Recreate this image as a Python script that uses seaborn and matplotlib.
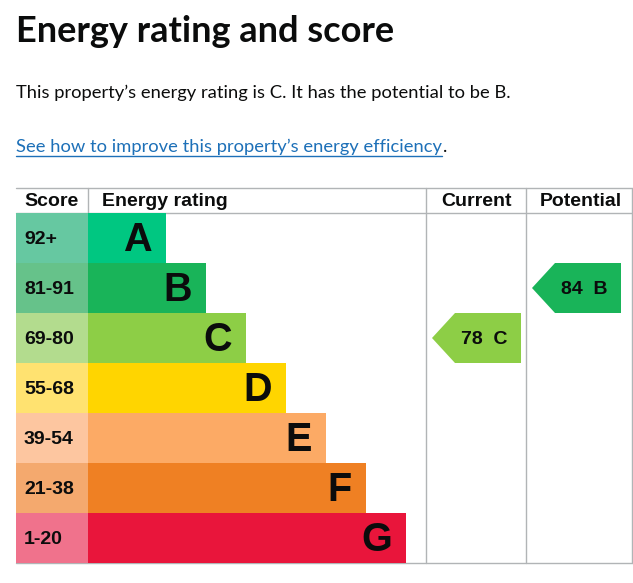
import matplotlib
matplotlib.use("Agg")
import matplotlib.pyplot as plt
import seaborn as sns
import pandas as pd

# ---- data ----
ratings = ["A", "B", "C", "D", "E", "F", "G"]
score_ranges = ["92+", "81-91", "69-80", "55-68", "39-54", "21-38", "1-20"]
band_low = [92, 81, 69, 55, 39, 21, 1]
current_score = 78
potential_score = 84
title = "Energy rating and score"
summary = "This property\u2019s energy rating is C. It has the potential to be B."
link_text = "See how to improve this property\u2019s energy efficiency"
headers = ["Score", "Energy rating", "Current", "Potential"]

# ---- styles ----
rating_colors = ["#00c781", "#19b459", "#8dce46", "#ffd500", "#fcaa65", "#ef8023", "#e9153b"]
score_colors = ["#66c8a1", "#66c28a", "#b3dc8e", "#ffe270", "#fdc6a0", "#f4a96e", "#f0728c"]
grid_color = "#b1b4b6"
TXT = "#0b0c0c"
LINK = "#1d70b8"
TF = "Liberation Sans"

W, H = 633, 583
sns.set_theme(style="white")
plt.rcParams["font.family"] = ["Liberation Sans", "DejaVu Sans"]

fig = plt.figure(figsize=(W / 100, H / 100), dpi=100)
fig.patch.set_facecolor("white")

# background axes in pixel coordinates
bg = fig.add_axes([0, 0, 1, 1])
bg.set_xlim(0, W)
bg.set_ylim(H, 0)
bg.axis("off")

# table geometry (pixels)
tx0, tx1 = 16, 632
ty_head, ty0, ty1 = 188, 213, 563
score_w = 72
col_cur, col_pot = 426, 526

# table body axes
ax = fig.add_axes([tx0 / W, (H - ty1) / H, (tx1 - tx0) / W, (ty1 - ty0) / H])
ax.set_zorder(2)
ax.patch.set_alpha(0)

bar_len = [150 + 40 * i for i in range(len(ratings))]
df = pd.DataFrame({"rating": ratings, "range": score_ranges, "len": bar_len,
                   "score_w": [score_w] * len(ratings)})

sns.barplot(data=df, y="rating", x="len", hue="rating", palette=rating_colors,
            orient="h", width=1.0, legend=False, ax=ax, linewidth=0, saturation=1)
sns.barplot(data=df, y="rating", x="score_w", hue="rating", palette=score_colors,
            orient="h", width=1.0, legend=False, ax=ax, linewidth=0, saturation=1)
ax.set_xlim(0, tx1 - tx0)
ax.set_ylim(len(ratings) - 0.5, -0.5)
ax.axis("off")

for i, (r, rng, L) in enumerate(zip(ratings, score_ranges, bar_len)):
    ax.text(8, i + 0.02, rng, ha="left", va="center", fontsize=14, fontweight="bold",
            color=TXT, family=TF)
    ax.text(L - 14, i + 0.04, r, ha="right", va="center", fontsize=28.5,
            fontweight="bold", color=TXT, family=TF)


def band_index(score):
    for i, lo in enumerate(band_low):
        if score >= lo:
            return i
    return len(band_low) - 1


def arrow(col_left, col_right, score, right_pad):
    i = band_index(score)
    tip = col_left + 6 - tx0
    right = col_right - right_pad - tx0
    body = tip + 23
    xs = [tip, body, right, right, body]
    ys = [i, i - 0.5, i - 0.5, i + 0.5, i + 0.5]
    ax.fill(xs, ys, color=rating_colors[i], linewidth=0)
    ax.text(right - 37, i + 0.02, f"{score}  {ratings[i]}", ha="center", va="center",
            fontsize=14, fontweight="bold", color=TXT, family=TF)


arrow(col_cur, col_pot, current_score, 5)
arrow(col_pot, tx1, potential_score, 11)

# grid lines
lw = 1.0
bg.plot([tx0, tx1], [ty_head, ty_head], color=grid_color, lw=lw)
bg.plot([tx0, tx1], [ty0, ty0], color=grid_color, lw=lw)
bg.plot([tx0, tx1], [ty1, ty1], color=grid_color, lw=lw)
bg.plot([tx0 + score_w, tx0 + score_w], [ty_head, ty0], color=grid_color, lw=lw)
for x in (col_cur, col_pot, tx1):
    bg.plot([x, x], [ty_head, ty1], color=grid_color, lw=lw)

# headers
hy = 201
bg.text(24, hy, headers[0], ha="left", va="center", fontsize=14, fontweight="bold", color=TXT, family=TF)
bg.text(102, hy, headers[1], ha="left", va="center", fontsize=14, fontweight="bold", color=TXT, family=TF)
bg.text((col_cur + col_pot) / 2, hy, headers[2], ha="center", va="center", fontsize=14, fontweight="bold", color=TXT, family=TF)
bg.text((col_pot + tx1) / 2 + 2, hy, headers[3], ha="center", va="center", fontsize=14, fontweight="bold", color=TXT, family=TF)

# title and text
bg.text(16, 42, title, ha="left", va="baseline", fontsize=26, fontweight="bold", color=TXT,
        family="Lato")
bg.text(16, 98, summary, ha="left", va="baseline", fontsize=13.2, color=TXT, family="Lato")
lt = bg.text(16, 152, link_text, ha="left", va="baseline", fontsize=13.2, color=LINK, family="Lato")
fig.canvas.draw()
bb = lt.get_window_extent()
x_end = bb.x1
bg.plot([16, x_end], [156, 156], color=LINK, lw=1)
bg.text(x_end + 1, 152, ".", ha="left", va="baseline", fontsize=13.2, color=TXT, family="Lato")

fig.savefig("out.png", dpi=100, facecolor="white")
